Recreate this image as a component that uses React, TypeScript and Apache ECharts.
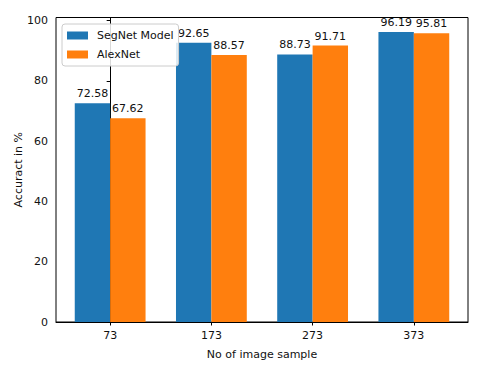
import React, { useEffect, useRef } from "react";
import * as echarts from "echarts";

const categories = ["73", "173", "273", "373"];
const segnet = [72.58, 92.65, 88.73, 96.19];
const alexnet = [67.62, 88.57, 91.71, 95.81];
const yTicks = [0, 20, 40, 60, 80, 100];
const seriesNames = ["SegNet Model", "AlexNet"];

const FONT = "DejaVu Sans";

export default function App() {
  const ref = useRef<HTMLDivElement>(null);
  useEffect(() => {
    const chart = echarts.init(ref.current!, null, { renderer: "svg" });
    const xIdx = categories.map((_, i) => i);
    const mk = (vals: number[]) => vals.map((v, i) => [i, v]);
    const labelCfg = {
      show: true,
      position: "top" as const,
      distance: 4,
      fontFamily: FONT,
      fontSize: 11,
      color: "#111",
      formatter: (p: any) => p.value[1].toFixed(2),
    };
    chart.setOption({
      animation: false,
      backgroundColor: "#fff",
      textStyle: { fontFamily: FONT },
      grid: {
        left: 56,
        top: 17.5,
        width: 412,
        height: 304.5,
        show: true,
        borderColor: "#000",
        borderWidth: 1,
        backgroundColor: "transparent",
      },
      legend: {
        orient: "vertical",
        left: 62,
        top: 24,
        data: seriesNames,
        icon: "rect",
        itemWidth: 21,
        itemHeight: 8,
        itemGap: 6,
        padding: [5, 5, 5, 5],
        backgroundColor: "rgba(255,255,255,0.85)",
        borderColor: "#ccc",
        borderWidth: 1,
        borderRadius: 3,
        textStyle: {
          fontFamily: FONT,
          fontSize: 11,
          color: "#111",
          lineHeight: 13,
          padding: [0, 0, 0, 4],
        },
      },
      xAxis: {
        type: "value",
        min: -0.535,
        max: 3.535,
        name: "No of image sample",
        nameLocation: "middle",
        nameGap: 27,
        nameMoveOverlap: false,
        nameTextStyle: { fontFamily: FONT, fontSize: 11, color: "#111" },
        axisLine: { show: true, onZero: false, lineStyle: { color: "#000", width: 1 } },
        axisTick: {
          show: true,
          length: 3.5,
          customValues: xIdx,
          lineStyle: { color: "#000" },
        },
        axisLabel: {
          customValues: xIdx,
          margin: 8,
          fontFamily: FONT,
          fontSize: 11,
          color: "#111",
          formatter: (v: number) => categories[Math.round(v)] ?? "",
        },
        splitLine: { show: false },
      },
      yAxis: {
        type: "value",
        min: 0,
        max: 100.9995,
        name: "Accuract in %",
        nameLocation: "middle",
        nameGap: 32,
        nameMoveOverlap: false,
        nameTextStyle: { fontFamily: FONT, fontSize: 11, color: "#111" },
        axisLine: { show: true, lineStyle: { color: "#000", width: 1 } },
        axisTick: {
          show: true,
          length: 3.5,
          customValues: yTicks,
          lineStyle: { color: "#000" },
        },
        axisLabel: {
          customValues: yTicks,
          margin: 8,
          fontFamily: FONT,
          fontSize: 11,
          color: "#111",
        },
        splitLine: { show: false },
      },
      series: [
        {
          name: seriesNames[0],
          type: "bar",
          data: mk(segnet),
          barWidth: 35.4,
          barGap: "0%",
          itemStyle: { color: "#1f77b4" },
          label: labelCfg,
        },
        {
          name: seriesNames[1],
          type: "bar",
          data: mk(alexnet),
          barWidth: 35.4,
          barGap: "0%",
          itemStyle: { color: "#ff7f0e" },
          label: labelCfg,
          z: 3,
        },
      ],
    });
    return () => chart.dispose();
  }, []);
  return <div ref={ref} style={{ width: 480, height: 377, position: "absolute", left: 0, top: 0 }} />;
}
